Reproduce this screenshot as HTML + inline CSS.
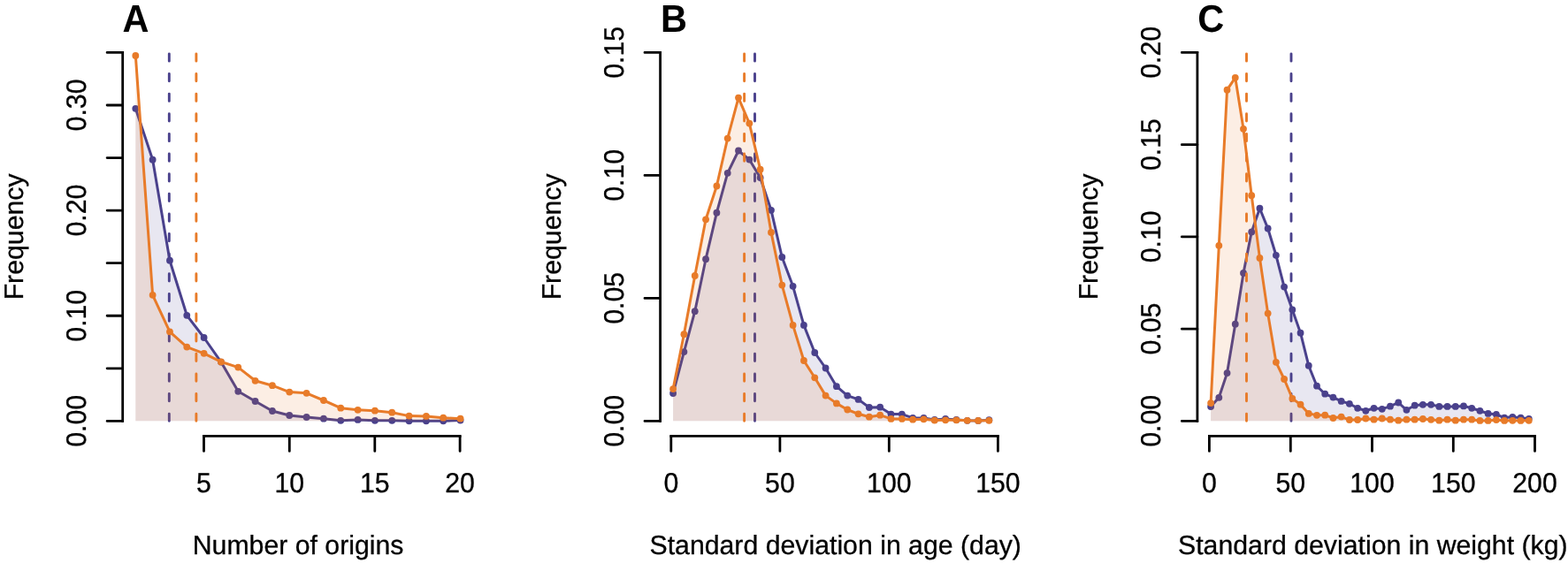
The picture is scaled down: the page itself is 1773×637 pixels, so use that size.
<!DOCTYPE html>
<html><head><meta charset="utf-8"><title>Frequency distributions</title>
<style>
html,body{margin:0;padding:0;background:#fff;}
body{width:1773px;height:637px;overflow:hidden;}
svg{display:block;text-rendering:geometricPrecision;}
.t{font-family:'Liberation Sans', Arial, Helvetica, sans-serif;font-size:30.25px;fill:#000;stroke:#000;stroke-width:0.3px;}
.L{font-family:'Liberation Sans', Arial, Helvetica, sans-serif;font-size:41.5px;font-weight:bold;fill:#000;}
</style></head><body>
<svg width="1773" height="637" viewBox="0 0 1773 637">
<rect width="1773" height="637" fill="#ffffff"/>
<g><polygon points="153.3,476.35 153.3,122.8 172.63,180.7 191.96,294.7 211.29,356.8 230.62,382 249.95,409.6 269.28,442.8 288.61,454 307.94,465 327.27,470 346.6,472 365.93,473.7 385.26,475.8 404.59,474.9 423.92,475.8 443.25,475.8 462.58,476.3 481.91,476.3 501.24,476.3 520.57,475.6 520.57,476.35" fill="#4a418c" fill-opacity="0.125" stroke="none"/>
<polyline points="153.3,122.8 172.63,180.7 191.96,294.7 211.29,356.8 230.62,382 249.95,409.6 269.28,442.8 288.61,454 307.94,465 327.27,470 346.6,472 365.93,473.7 385.26,475.8 404.59,474.9 423.92,475.8 443.25,475.8 462.58,476.3 481.91,476.3 501.24,476.3 520.57,475.6" fill="none" stroke="#4a418c" stroke-width="3.0" stroke-linejoin="round" stroke-linecap="round"/>
<g fill="#4a418c"><circle cx="153.3" cy="122.8" r="3.9"/><circle cx="172.63" cy="180.7" r="3.9"/><circle cx="191.96" cy="294.7" r="3.9"/><circle cx="211.29" cy="356.8" r="3.9"/><circle cx="230.62" cy="382" r="3.9"/><circle cx="249.95" cy="409.6" r="3.9"/><circle cx="269.28" cy="442.8" r="3.9"/><circle cx="288.61" cy="454" r="3.9"/><circle cx="307.94" cy="465" r="3.9"/><circle cx="327.27" cy="470" r="3.9"/><circle cx="346.6" cy="472" r="3.9"/><circle cx="365.93" cy="473.7" r="3.9"/><circle cx="385.26" cy="475.8" r="3.9"/><circle cx="404.59" cy="474.9" r="3.9"/><circle cx="423.92" cy="475.8" r="3.9"/><circle cx="443.25" cy="475.8" r="3.9"/><circle cx="462.58" cy="476.3" r="3.9"/><circle cx="481.91" cy="476.3" r="3.9"/><circle cx="501.24" cy="476.3" r="3.9"/><circle cx="520.57" cy="475.6" r="3.9"/></g>
<line x1="191.3" y1="60.85" x2="191.3" y2="476.35" stroke="#4a418c" stroke-width="2.9" stroke-dasharray="8.3 14.33" stroke-linecap="round"/>
<polygon points="153.3,476.35 153.3,62.9 172.63,333.8 191.96,375.3 211.29,392.6 230.62,399.8 249.95,409.4 269.28,415.6 288.61,430.8 307.94,436.2 327.27,443.6 346.6,444.8 365.93,453 385.26,461.7 404.59,463.8 423.92,464.7 443.25,466.7 462.58,470.6 481.91,470.9 501.24,472.7 520.57,473.7 520.57,476.35" fill="#e87b29" fill-opacity="0.125" stroke="none"/>
<polyline points="153.3,62.9 172.63,333.8 191.96,375.3 211.29,392.6 230.62,399.8 249.95,409.4 269.28,415.6 288.61,430.8 307.94,436.2 327.27,443.6 346.6,444.8 365.93,453 385.26,461.7 404.59,463.8 423.92,464.7 443.25,466.7 462.58,470.6 481.91,470.9 501.24,472.7 520.57,473.7" fill="none" stroke="#e87b29" stroke-width="3.0" stroke-linejoin="round" stroke-linecap="round"/>
<g fill="#e87b29"><circle cx="153.3" cy="62.9" r="3.9"/><circle cx="172.63" cy="333.8" r="3.9"/><circle cx="191.96" cy="375.3" r="3.9"/><circle cx="211.29" cy="392.6" r="3.9"/><circle cx="230.62" cy="399.8" r="3.9"/><circle cx="249.95" cy="409.4" r="3.9"/><circle cx="269.28" cy="415.6" r="3.9"/><circle cx="288.61" cy="430.8" r="3.9"/><circle cx="307.94" cy="436.2" r="3.9"/><circle cx="327.27" cy="443.6" r="3.9"/><circle cx="346.6" cy="444.8" r="3.9"/><circle cx="365.93" cy="453" r="3.9"/><circle cx="385.26" cy="461.7" r="3.9"/><circle cx="404.59" cy="463.8" r="3.9"/><circle cx="423.92" cy="464.7" r="3.9"/><circle cx="443.25" cy="466.7" r="3.9"/><circle cx="462.58" cy="470.6" r="3.9"/><circle cx="481.91" cy="470.9" r="3.9"/><circle cx="501.24" cy="472.7" r="3.9"/><circle cx="520.57" cy="473.7" r="3.9"/></g>
<line x1="221.9" y1="60.85" x2="221.9" y2="476.35" stroke="#e87b29" stroke-width="2.9" stroke-dasharray="8.3 14.33" stroke-linecap="round"/>
<path d="M138.7 477.8 V58.01 M229.1 493.35 H521.5" fill="none" stroke="#000" stroke-width="2.8" stroke-linecap="butt"/>
<path d="M138.7 476.4H121.1M138.7 416.83H121.1M138.7 357.26H121.1M138.7 297.69H121.1M138.7 238.12H121.1M138.7 178.55H121.1M138.7 118.98H121.1M138.7 59.41H121.1M230.5 493.35V510.45M327.3 493.35V510.45M423.8 493.35V510.45M520.1 493.35V510.45" fill="none" stroke="#000" stroke-width="2.8" stroke-linecap="round"/>
<text transform="translate(96.9 476.4) rotate(-90) scale(1 1.04)" text-anchor="middle" class="t">0.00</text>
<text transform="translate(96.9 357.26) rotate(-90) scale(1 1.04)" text-anchor="middle" class="t">0.10</text>
<text transform="translate(96.9 238.12) rotate(-90) scale(1 1.04)" text-anchor="middle" class="t">0.20</text>
<text transform="translate(96.9 118.98) rotate(-90) scale(1 1.04)" text-anchor="middle" class="t">0.30</text>
<text transform="translate(230.5 557) scale(1 1.04)" text-anchor="middle" class="t">5</text>
<text transform="translate(327.3 557) scale(1 1.04)" text-anchor="middle" class="t">10</text>
<text transform="translate(423.8 557) scale(1 1.04)" text-anchor="middle" class="t">15</text>
<text transform="translate(520.1 557) scale(1 1.04)" text-anchor="middle" class="t">20</text>
<text transform="translate(26.2 267.9) rotate(-90) scale(1 1.0)" text-anchor="middle" class="t">Frequency</text>
<text transform="translate(337.1 626.8) scale(1 1.0)" text-anchor="middle" class="t">Number of origins</text>
<text transform="translate(138.6 35.9) scale(1 1.047)" class="L">A</text></g>
<g><polygon points="761.1,476.35 761.1,445 773.42,398.1 785.74,352.2 798.06,293.2 810.38,240.7 822.7,195.8 835.02,170.5 847.34,180.6 859.66,201.1 871.98,237.8 884.3,291 896.62,323.8 908.94,367.9 921.26,399 933.58,416.5 945.9,437.2 958.22,447.6 970.54,451.9 982.86,461 995.18,460.7 1007.5,468.6 1019.82,468.6 1032.14,472.9 1044.46,472.9 1056.78,474.9 1069.1,473.9 1081.42,474.9 1093.74,475.8 1106.06,475.9 1118.38,475.2 1118.38,476.35" fill="#4a418c" fill-opacity="0.125" stroke="none"/>
<polyline points="761.1,445 773.42,398.1 785.74,352.2 798.06,293.2 810.38,240.7 822.7,195.8 835.02,170.5 847.34,180.6 859.66,201.1 871.98,237.8 884.3,291 896.62,323.8 908.94,367.9 921.26,399 933.58,416.5 945.9,437.2 958.22,447.6 970.54,451.9 982.86,461 995.18,460.7 1007.5,468.6 1019.82,468.6 1032.14,472.9 1044.46,472.9 1056.78,474.9 1069.1,473.9 1081.42,474.9 1093.74,475.8 1106.06,475.9 1118.38,475.2" fill="none" stroke="#4a418c" stroke-width="3.0" stroke-linejoin="round" stroke-linecap="round"/>
<g fill="#4a418c"><circle cx="761.1" cy="445" r="3.9"/><circle cx="773.42" cy="398.1" r="3.9"/><circle cx="785.74" cy="352.2" r="3.9"/><circle cx="798.06" cy="293.2" r="3.9"/><circle cx="810.38" cy="240.7" r="3.9"/><circle cx="822.7" cy="195.8" r="3.9"/><circle cx="835.02" cy="170.5" r="3.9"/><circle cx="847.34" cy="180.6" r="3.9"/><circle cx="859.66" cy="201.1" r="3.9"/><circle cx="871.98" cy="237.8" r="3.9"/><circle cx="884.3" cy="291" r="3.9"/><circle cx="896.62" cy="323.8" r="3.9"/><circle cx="908.94" cy="367.9" r="3.9"/><circle cx="921.26" cy="399" r="3.9"/><circle cx="933.58" cy="416.5" r="3.9"/><circle cx="945.9" cy="437.2" r="3.9"/><circle cx="958.22" cy="447.6" r="3.9"/><circle cx="970.54" cy="451.9" r="3.9"/><circle cx="982.86" cy="461" r="3.9"/><circle cx="995.18" cy="460.7" r="3.9"/><circle cx="1007.5" cy="468.6" r="3.9"/><circle cx="1019.82" cy="468.6" r="3.9"/><circle cx="1032.14" cy="472.9" r="3.9"/><circle cx="1044.46" cy="472.9" r="3.9"/><circle cx="1056.78" cy="474.9" r="3.9"/><circle cx="1069.1" cy="473.9" r="3.9"/><circle cx="1081.42" cy="474.9" r="3.9"/><circle cx="1093.74" cy="475.8" r="3.9"/><circle cx="1106.06" cy="475.9" r="3.9"/><circle cx="1118.38" cy="475.2" r="3.9"/></g>
<line x1="853.5" y1="60.85" x2="853.5" y2="476.35" stroke="#4a418c" stroke-width="2.9" stroke-dasharray="8.3 14.33" stroke-linecap="round"/>
<polygon points="761.1,476.35 761.1,440.1 773.42,378.2 785.74,312 798.06,248.3 810.38,210.5 822.7,156.6 835.02,110.6 847.34,139.6 859.66,191.7 871.98,262.9 884.3,322.6 896.62,367.9 908.94,408 921.26,427.3 933.58,447.6 945.9,456.4 958.22,463.5 970.54,468.3 982.86,471.7 995.18,469.7 1007.5,473.9 1019.82,473.9 1032.14,474.7 1044.46,474.3 1056.78,475.6 1069.1,475.3 1081.42,475.3 1093.74,475.8 1106.06,475.9 1118.38,475.8 1118.38,476.35" fill="#e87b29" fill-opacity="0.125" stroke="none"/>
<polyline points="761.1,440.1 773.42,378.2 785.74,312 798.06,248.3 810.38,210.5 822.7,156.6 835.02,110.6 847.34,139.6 859.66,191.7 871.98,262.9 884.3,322.6 896.62,367.9 908.94,408 921.26,427.3 933.58,447.6 945.9,456.4 958.22,463.5 970.54,468.3 982.86,471.7 995.18,469.7 1007.5,473.9 1019.82,473.9 1032.14,474.7 1044.46,474.3 1056.78,475.6 1069.1,475.3 1081.42,475.3 1093.74,475.8 1106.06,475.9 1118.38,475.8" fill="none" stroke="#e87b29" stroke-width="3.0" stroke-linejoin="round" stroke-linecap="round"/>
<g fill="#e87b29"><circle cx="761.1" cy="440.1" r="3.9"/><circle cx="773.42" cy="378.2" r="3.9"/><circle cx="785.74" cy="312" r="3.9"/><circle cx="798.06" cy="248.3" r="3.9"/><circle cx="810.38" cy="210.5" r="3.9"/><circle cx="822.7" cy="156.6" r="3.9"/><circle cx="835.02" cy="110.6" r="3.9"/><circle cx="847.34" cy="139.6" r="3.9"/><circle cx="859.66" cy="191.7" r="3.9"/><circle cx="871.98" cy="262.9" r="3.9"/><circle cx="884.3" cy="322.6" r="3.9"/><circle cx="896.62" cy="367.9" r="3.9"/><circle cx="908.94" cy="408" r="3.9"/><circle cx="921.26" cy="427.3" r="3.9"/><circle cx="933.58" cy="447.6" r="3.9"/><circle cx="945.9" cy="456.4" r="3.9"/><circle cx="958.22" cy="463.5" r="3.9"/><circle cx="970.54" cy="468.3" r="3.9"/><circle cx="982.86" cy="471.7" r="3.9"/><circle cx="995.18" cy="469.7" r="3.9"/><circle cx="1007.5" cy="473.9" r="3.9"/><circle cx="1019.82" cy="473.9" r="3.9"/><circle cx="1032.14" cy="474.7" r="3.9"/><circle cx="1044.46" cy="474.3" r="3.9"/><circle cx="1056.78" cy="475.6" r="3.9"/><circle cx="1069.1" cy="475.3" r="3.9"/><circle cx="1081.42" cy="475.3" r="3.9"/><circle cx="1093.74" cy="475.8" r="3.9"/><circle cx="1106.06" cy="475.9" r="3.9"/><circle cx="1118.38" cy="475.8" r="3.9"/></g>
<line x1="841.6" y1="60.85" x2="841.6" y2="476.35" stroke="#e87b29" stroke-width="2.9" stroke-dasharray="8.3 14.33" stroke-linecap="round"/>
<path d="M746.6 477.8 V58 M757.4 493.35 H1129.8" fill="none" stroke="#000" stroke-width="2.8" stroke-linecap="butt"/>
<path d="M746.6 476.4H729M746.6 337.4H729M746.6 198.4H729M746.6 59.4H729M758.8 493.35V510.45M881.9 493.35V510.45M1005.3 493.35V510.45M1128.4 493.35V510.45" fill="none" stroke="#000" stroke-width="2.8" stroke-linecap="round"/>
<text transform="translate(704.7 476.4) rotate(-90) scale(1 1.04)" text-anchor="middle" class="t">0.00</text>
<text transform="translate(704.7 337.4) rotate(-90) scale(1 1.04)" text-anchor="middle" class="t">0.05</text>
<text transform="translate(704.7 198.4) rotate(-90) scale(1 1.04)" text-anchor="middle" class="t">0.10</text>
<text transform="translate(704.7 59.4) rotate(-90) scale(1 1.04)" text-anchor="middle" class="t">0.15</text>
<text transform="translate(758.8 557) scale(1 1.04)" text-anchor="middle" class="t">0</text>
<text transform="translate(881.9 557) scale(1 1.04)" text-anchor="middle" class="t">50</text>
<text transform="translate(1005.3 557) scale(1 1.04)" text-anchor="middle" class="t">100</text>
<text transform="translate(1128.4 557) scale(1 1.04)" text-anchor="middle" class="t">150</text>
<text transform="translate(633.8 267.9) rotate(-90) scale(1 1.0)" text-anchor="middle" class="t">Frequency</text>
<text transform="translate(944.7 626.8) scale(1 1.0)" text-anchor="middle" class="t">Standard deviation in age (day)</text>
<text transform="translate(746.9 35.9) scale(1 1.047)" class="L">B</text></g>
<g><polygon points="1369.1,476.35 1369.1,460.1 1378.32,449.8 1387.54,422.1 1396.77,366.7 1405.99,309 1415.21,262.4 1424.43,235.7 1433.65,258.5 1442.88,288.8 1452.1,324.6 1461.32,350.5 1470.54,376.7 1479.76,413.7 1488.99,436.7 1498.21,445.7 1507.43,449.6 1516.65,453.9 1525.87,456.8 1535.1,461.8 1544.32,464.8 1553.54,461.8 1562.76,462.8 1571.98,459.7 1581.21,455.5 1590.43,463.8 1599.65,458.7 1608.87,457.8 1618.09,457.8 1627.32,459.9 1636.54,459.9 1645.76,459.9 1654.98,459.4 1664.2,461.8 1673.43,464.8 1682.65,467.9 1691.87,468.8 1701.09,472.6 1710.31,471.8 1719.54,472.7 1728.76,473.8 1728.76,476.35" fill="#4a418c" fill-opacity="0.125" stroke="none"/>
<polyline points="1369.1,460.1 1378.32,449.8 1387.54,422.1 1396.77,366.7 1405.99,309 1415.21,262.4 1424.43,235.7 1433.65,258.5 1442.88,288.8 1452.1,324.6 1461.32,350.5 1470.54,376.7 1479.76,413.7 1488.99,436.7 1498.21,445.7 1507.43,449.6 1516.65,453.9 1525.87,456.8 1535.1,461.8 1544.32,464.8 1553.54,461.8 1562.76,462.8 1571.98,459.7 1581.21,455.5 1590.43,463.8 1599.65,458.7 1608.87,457.8 1618.09,457.8 1627.32,459.9 1636.54,459.9 1645.76,459.9 1654.98,459.4 1664.2,461.8 1673.43,464.8 1682.65,467.9 1691.87,468.8 1701.09,472.6 1710.31,471.8 1719.54,472.7 1728.76,473.8" fill="none" stroke="#4a418c" stroke-width="3.0" stroke-linejoin="round" stroke-linecap="round"/>
<g fill="#4a418c"><circle cx="1369.1" cy="460.1" r="3.9"/><circle cx="1378.32" cy="449.8" r="3.9"/><circle cx="1387.54" cy="422.1" r="3.9"/><circle cx="1396.77" cy="366.7" r="3.9"/><circle cx="1405.99" cy="309" r="3.9"/><circle cx="1415.21" cy="262.4" r="3.9"/><circle cx="1424.43" cy="235.7" r="3.9"/><circle cx="1433.65" cy="258.5" r="3.9"/><circle cx="1442.88" cy="288.8" r="3.9"/><circle cx="1452.1" cy="324.6" r="3.9"/><circle cx="1461.32" cy="350.5" r="3.9"/><circle cx="1470.54" cy="376.7" r="3.9"/><circle cx="1479.76" cy="413.7" r="3.9"/><circle cx="1488.99" cy="436.7" r="3.9"/><circle cx="1498.21" cy="445.7" r="3.9"/><circle cx="1507.43" cy="449.6" r="3.9"/><circle cx="1516.65" cy="453.9" r="3.9"/><circle cx="1525.87" cy="456.8" r="3.9"/><circle cx="1535.1" cy="461.8" r="3.9"/><circle cx="1544.32" cy="464.8" r="3.9"/><circle cx="1553.54" cy="461.8" r="3.9"/><circle cx="1562.76" cy="462.8" r="3.9"/><circle cx="1571.98" cy="459.7" r="3.9"/><circle cx="1581.21" cy="455.5" r="3.9"/><circle cx="1590.43" cy="463.8" r="3.9"/><circle cx="1599.65" cy="458.7" r="3.9"/><circle cx="1608.87" cy="457.8" r="3.9"/><circle cx="1618.09" cy="457.8" r="3.9"/><circle cx="1627.32" cy="459.9" r="3.9"/><circle cx="1636.54" cy="459.9" r="3.9"/><circle cx="1645.76" cy="459.9" r="3.9"/><circle cx="1654.98" cy="459.4" r="3.9"/><circle cx="1664.2" cy="461.8" r="3.9"/><circle cx="1673.43" cy="464.8" r="3.9"/><circle cx="1682.65" cy="467.9" r="3.9"/><circle cx="1691.87" cy="468.8" r="3.9"/><circle cx="1701.09" cy="472.6" r="3.9"/><circle cx="1710.31" cy="471.8" r="3.9"/><circle cx="1719.54" cy="472.7" r="3.9"/><circle cx="1728.76" cy="473.8" r="3.9"/></g>
<line x1="1460" y1="60.85" x2="1460" y2="476.35" stroke="#4a418c" stroke-width="2.9" stroke-dasharray="8.3 14.33" stroke-linecap="round"/>
<polygon points="1369.1,476.35 1369.1,456.1 1378.32,277.8 1387.54,101.7 1396.77,87.8 1405.99,145.8 1415.21,221.2 1424.43,291.9 1433.65,354.6 1442.88,409.8 1452.1,429 1461.32,450.9 1470.54,457.7 1479.76,467.9 1488.99,469.8 1498.21,469.7 1507.43,473 1516.65,471.6 1525.87,475 1535.1,475 1544.32,473.5 1553.54,474.7 1562.76,473.5 1571.98,474.7 1581.21,475.7 1590.43,474.7 1599.65,474.7 1608.87,474 1618.09,474.8 1627.32,475.7 1636.54,474.7 1645.76,475.7 1654.98,474.7 1664.2,474.7 1673.43,475.9 1682.65,475.9 1691.87,475.1 1701.09,475.9 1710.31,475.8 1719.54,475.9 1728.76,475.8 1728.76,476.35" fill="#e87b29" fill-opacity="0.125" stroke="none"/>
<polyline points="1369.1,456.1 1378.32,277.8 1387.54,101.7 1396.77,87.8 1405.99,145.8 1415.21,221.2 1424.43,291.9 1433.65,354.6 1442.88,409.8 1452.1,429 1461.32,450.9 1470.54,457.7 1479.76,467.9 1488.99,469.8 1498.21,469.7 1507.43,473 1516.65,471.6 1525.87,475 1535.1,475 1544.32,473.5 1553.54,474.7 1562.76,473.5 1571.98,474.7 1581.21,475.7 1590.43,474.7 1599.65,474.7 1608.87,474 1618.09,474.8 1627.32,475.7 1636.54,474.7 1645.76,475.7 1654.98,474.7 1664.2,474.7 1673.43,475.9 1682.65,475.9 1691.87,475.1 1701.09,475.9 1710.31,475.8 1719.54,475.9 1728.76,475.8" fill="none" stroke="#e87b29" stroke-width="3.0" stroke-linejoin="round" stroke-linecap="round"/>
<g fill="#e87b29"><circle cx="1369.1" cy="456.1" r="3.9"/><circle cx="1378.32" cy="277.8" r="3.9"/><circle cx="1387.54" cy="101.7" r="3.9"/><circle cx="1396.77" cy="87.8" r="3.9"/><circle cx="1405.99" cy="145.8" r="3.9"/><circle cx="1415.21" cy="221.2" r="3.9"/><circle cx="1424.43" cy="291.9" r="3.9"/><circle cx="1433.65" cy="354.6" r="3.9"/><circle cx="1442.88" cy="409.8" r="3.9"/><circle cx="1452.1" cy="429" r="3.9"/><circle cx="1461.32" cy="450.9" r="3.9"/><circle cx="1470.54" cy="457.7" r="3.9"/><circle cx="1479.76" cy="467.9" r="3.9"/><circle cx="1488.99" cy="469.8" r="3.9"/><circle cx="1498.21" cy="469.7" r="3.9"/><circle cx="1507.43" cy="473" r="3.9"/><circle cx="1516.65" cy="471.6" r="3.9"/><circle cx="1525.87" cy="475" r="3.9"/><circle cx="1535.1" cy="475" r="3.9"/><circle cx="1544.32" cy="473.5" r="3.9"/><circle cx="1553.54" cy="474.7" r="3.9"/><circle cx="1562.76" cy="473.5" r="3.9"/><circle cx="1571.98" cy="474.7" r="3.9"/><circle cx="1581.21" cy="475.7" r="3.9"/><circle cx="1590.43" cy="474.7" r="3.9"/><circle cx="1599.65" cy="474.7" r="3.9"/><circle cx="1608.87" cy="474" r="3.9"/><circle cx="1618.09" cy="474.8" r="3.9"/><circle cx="1627.32" cy="475.7" r="3.9"/><circle cx="1636.54" cy="474.7" r="3.9"/><circle cx="1645.76" cy="475.7" r="3.9"/><circle cx="1654.98" cy="474.7" r="3.9"/><circle cx="1664.2" cy="474.7" r="3.9"/><circle cx="1673.43" cy="475.9" r="3.9"/><circle cx="1682.65" cy="475.9" r="3.9"/><circle cx="1691.87" cy="475.1" r="3.9"/><circle cx="1701.09" cy="475.9" r="3.9"/><circle cx="1710.31" cy="475.8" r="3.9"/><circle cx="1719.54" cy="475.9" r="3.9"/><circle cx="1728.76" cy="475.8" r="3.9"/></g>
<line x1="1409.5" y1="60.85" x2="1409.5" y2="476.35" stroke="#e87b29" stroke-width="2.9" stroke-dasharray="8.3 14.33" stroke-linecap="round"/>
<path d="M1353.9 477.8 V58 M1366 493.35 H1736.9" fill="none" stroke="#000" stroke-width="2.8" stroke-linecap="butt"/>
<path d="M1353.9 476.4H1336.3M1353.9 372.15H1336.3M1353.9 267.9H1336.3M1353.9 163.65H1336.3M1353.9 59.4H1336.3M1367.4 493.35V510.45M1459.3 493.35V510.45M1551.5 493.35V510.45M1643.3 493.35V510.45M1735.5 493.35V510.45" fill="none" stroke="#000" stroke-width="2.8" stroke-linecap="round"/>
<text transform="translate(1312.4 476.4) rotate(-90) scale(1 1.04)" text-anchor="middle" class="t">0.00</text>
<text transform="translate(1312.4 372.15) rotate(-90) scale(1 1.04)" text-anchor="middle" class="t">0.05</text>
<text transform="translate(1312.4 267.9) rotate(-90) scale(1 1.04)" text-anchor="middle" class="t">0.10</text>
<text transform="translate(1312.4 163.65) rotate(-90) scale(1 1.04)" text-anchor="middle" class="t">0.15</text>
<text transform="translate(1312.4 59.4) rotate(-90) scale(1 1.04)" text-anchor="middle" class="t">0.20</text>
<text transform="translate(1367.4 557) scale(1 1.04)" text-anchor="middle" class="t">0</text>
<text transform="translate(1459.3 557) scale(1 1.04)" text-anchor="middle" class="t">50</text>
<text transform="translate(1551.5 557) scale(1 1.04)" text-anchor="middle" class="t">100</text>
<text transform="translate(1643.3 557) scale(1 1.04)" text-anchor="middle" class="t">150</text>
<text transform="translate(1735.5 557) scale(1 1.04)" text-anchor="middle" class="t">200</text>
<text transform="translate(1241.4 267.9) rotate(-90) scale(1 1.0)" text-anchor="middle" class="t">Frequency</text>
<text transform="translate(1552.3 626.8) scale(1 1.0)" text-anchor="middle" class="t">Standard deviation in weight (kg)</text>
<text transform="translate(1354.2 35.9) scale(1 1.047)" class="L">C</text></g>
</svg>
</body></html>
